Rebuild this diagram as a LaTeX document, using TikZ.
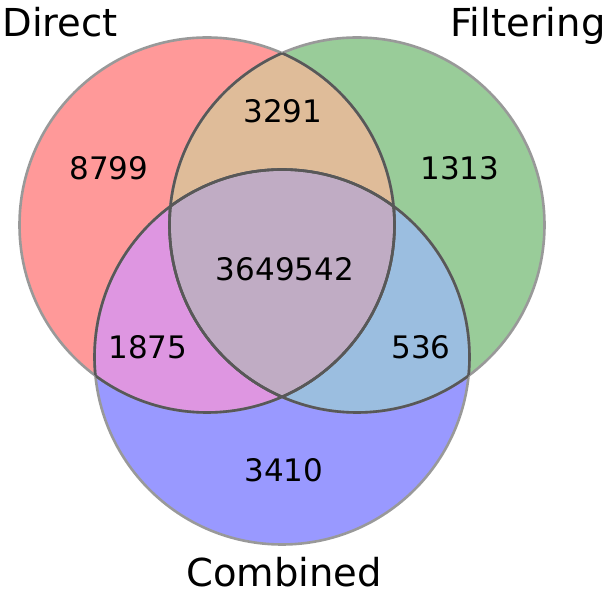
\documentclass[tikz,border=0pt]{standalone}
\usepackage{fontspec}
\setmainfont{DejaVu Sans}
\definecolor{onlyA}{RGB}{255,153,153}
\definecolor{onlyB}{RGB}{153,204,153}
\definecolor{onlyC}{RGB}{153,153,255}
\definecolor{regAB}{RGB}{223,188,153}
\definecolor{regAC}{RGB}{222,150,225}
\definecolor{regBC}{RGB}{155,190,224}
\definecolor{regABC}{RGB}{192,172,196}
\definecolor{rimOuter}{RGB}{153,153,153}
\definecolor{rimInner}{RGB}{88,88,88}
\tikzset{
  rim/.style={line width=2.6pt},
  count/.style={anchor=base, inner sep=0pt, font=\fontsize{31}{31}\selectfont},
  setname/.style={anchor=base, inner sep=0pt, font=\fontsize{38.5}{38.5}\selectfont}
}
\begin{document}
\begin{tikzpicture}[x=1pt,y=-1pt]
\useasboundingbox (0,0) rectangle (606,593);
\def\R{187.5}
\coordinate (cA) at (207,225);
\coordinate (cB) at (357,225);
\coordinate (cC) at (282,357);
% single-set fills
\fill[onlyA] (cA) circle (\R);
\fill[onlyB] (cB) circle (\R);
\fill[onlyC] (cC) circle (\R);
% pairwise overlaps
\begin{scope}\clip (cA) circle (\R); \fill[regAB] (cB) circle (\R);\end{scope}
\begin{scope}\clip (cA) circle (\R); \fill[regAC] (cC) circle (\R);\end{scope}
\begin{scope}\clip (cB) circle (\R); \fill[regBC] (cC) circle (\R);\end{scope}
% triple overlap
\begin{scope}\clip (cA) circle (\R); \clip (cB) circle (\R); \fill[regABC] (cC) circle (\R);\end{scope}
% outlines: light where they meet the background
\draw[rim, rimOuter] (cA) circle (\R) (cB) circle (\R) (cC) circle (\R);
% outlines: darker where they cross another set
\begin{scope}\clip (cB) circle (\R); \draw[rim, rimInner] (cA) circle (\R) (cC) circle (\R);\end{scope}
\begin{scope}\clip (cA) circle (\R); \draw[rim, rimInner] (cB) circle (\R) (cC) circle (\R);\end{scope}
\begin{scope}\clip (cC) circle (\R); \draw[rim, rimInner] (cA) circle (\R) (cB) circle (\R);\end{scope}
% region counts
\node[count] (nA)   at (109,180) {8799};
\node[count] (nB)   at (460,180) {1313};
\node[count] (nAB)  at (283,123) {3291};
\node[count] (nABC) at (285,281) {3649542};
\node[count] (nAC)  at (148,359) {1875};
\node[count] (nBC)  at (421,359) {536};
\node[count] (nC)   at (284,482) {3410};
% set names
\node[setname] (tA) at (60,37) {Direct};
\node[setname] (tB) at (528,37) {Filtering};
\node[setname] (tC) at (284,587) {Combined};
\end{tikzpicture}
\end{document}
